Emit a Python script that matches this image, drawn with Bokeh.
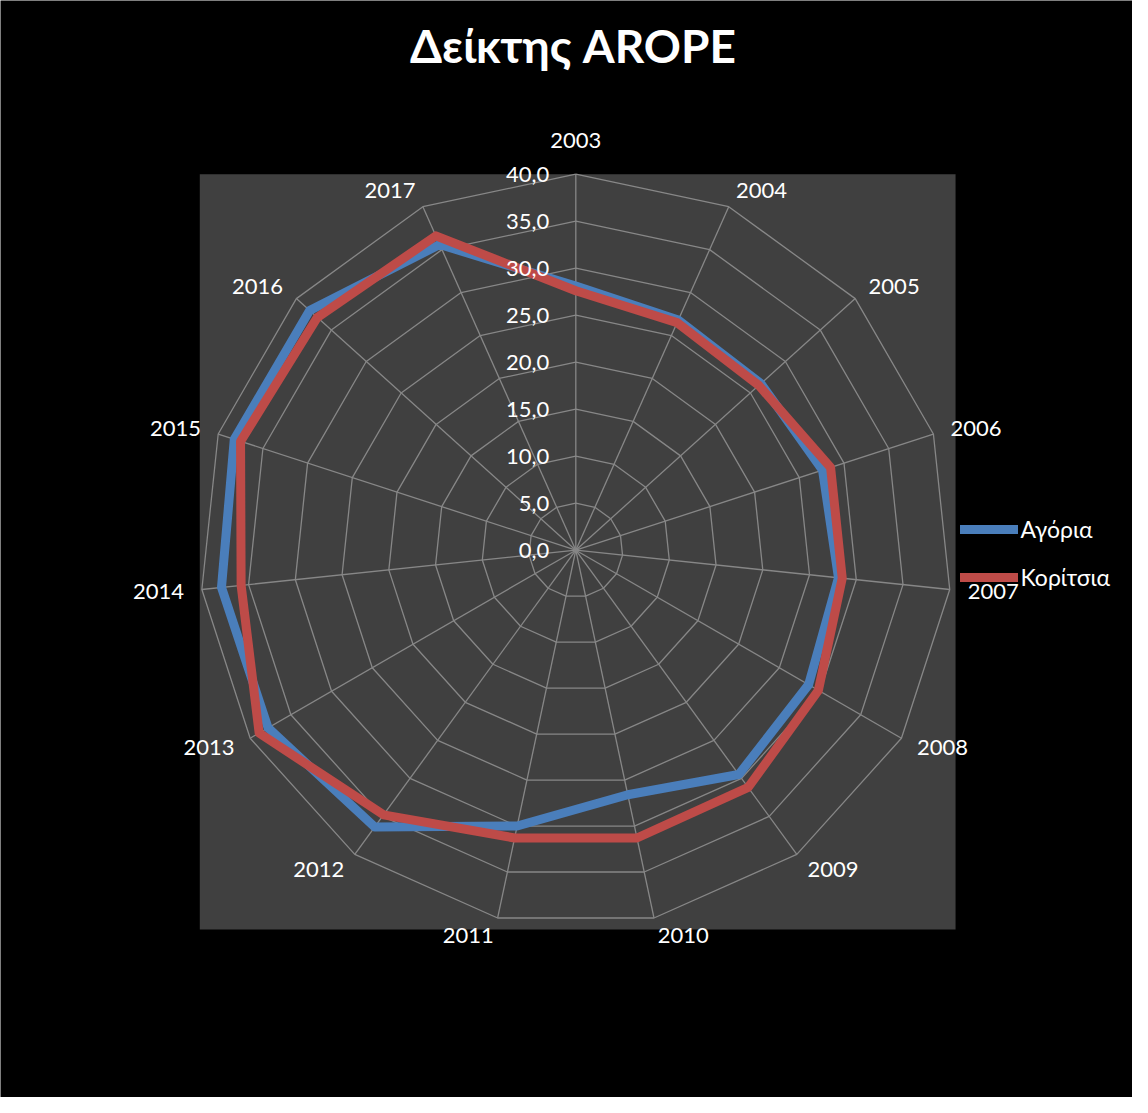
import numpy as np
from bokeh.plotting import figure
from bokeh.models import Range1d, BoxAnnotation, Legend, LegendItem
from bokeh.core.properties import value
from bokeh.embed import file_html
from bokeh.resources import INLINE

# ---------------- data ----------------
title_text = "Δείκτης AROPE"
years = ["2003", "2004", "2005", "2006", "2007", "2008", "2009", "2010",
         "2011", "2012", "2013", "2014", "2015", "2016", "2017"]
boys = [28.1, 26.8, 26.5, 27.6, 28.1, 28.6, 29.5, 26.6,
        30.0, 36.4, 37.8, 37.9, 38.2, 38.1, 35.6]
girls = [27.6, 26.5, 26.2, 28.5, 28.5, 29.8, 31.2, 31.3,
         31.3, 34.8, 38.9, 35.8, 37.5, 37.0, 36.6]
series_names = ["Αγόρια", "Κορίτσια"]
tick_values = [0, 5, 10, 15, 20, 25, 30, 35, 40]
tick_labels = ["0,0", "5,0", "10,0", "15,0", "20,0", "25,0", "30,0", "35,0", "40,0"]

# ---------------- layout ----------------
W, H = 1132, 1097
S = 9.4                 # pixels per value unit
CX, CY = 575.3, 549.7   # radar centre in figure pixels
R = tick_values[-1]
FONT = value("Lato")
LBL_PX = 22
TITLE_PX = 46
GRID = "#878787"
BLUE = "#4A7EBB"
RED = "#BE4B48"


def fix(px):
    # upward correction of the alphabetic baseline, in value units
    return 0.42 * px / S


n = len(years)
ang = np.deg2rad(90 - 360.0 / n * np.arange(n))
ang_c = np.append(ang, ang[0])

p = figure(width=W, height=H,
           x_range=Range1d(-CX / S, (W - CX) / S),
           y_range=Range1d(-(H - CY) / S, CY / S),
           output_backend="svg", toolbar_location=None,
           x_axis_type=None, y_axis_type=None, min_border=0,
           background_fill_color="black", border_fill_color="black",
           outline_line_color=None)

# plot-area box
p.add_layout(BoxAnnotation(left=-R, right=R + 0.4, bottom=-R - 0.35, top=R,
                           fill_color="#404040", fill_alpha=1.0,
                           line_color=None, level="underlay"))

# rings
ring_vals = [v for v in tick_values if v > 0]
p.multi_line(xs=[list(v * np.cos(ang_c)) for v in ring_vals],
             ys=[list(v * np.sin(ang_c)) for v in ring_vals],
             line_color=GRID, line_width=1.3)
# spokes
p.segment(x0=np.zeros(n), y0=np.zeros(n), x1=R * np.cos(ang), y1=R * np.sin(ang),
          line_color=GRID, line_width=1.3)


# series
def closed(vals):
    v = np.append(np.array(vals, dtype=float), vals[0])
    return v * np.cos(ang_c), v * np.sin(ang_c)


bx, by = closed(boys)
gx, gy = closed(girls)
r_boys = p.line(bx, by, line_color=BLUE, line_width=9, line_join="round", line_cap="round")
r_girls = p.line(gx, gy, line_color=RED, line_width=9, line_join="round", line_cap="round")

# value tick labels
p.text(x=[-26.6 / S] * len(tick_values),
       y=[v - 9.8 / S + fix(LBL_PX) for v in tick_values],
       text=tick_labels, text_align="right", text_baseline="alphabetic",
       text_color="white", text_font=FONT, text_font_size=f"{LBL_PX}px")

# category labels
groups = {"left": ([], [], []), "right": ([], [], []), "center": ([], [], [])}
for i, yr in enumerate(years):
    c, s = np.cos(ang[i]), np.sin(ang[i])
    if abs(c) < 0.05:
        key = "center"
        ax = 0.0
        ay = (R * S + 24.0) / S if s > 0 else -(R * S + 24.0) / S
    else:
        key = "left" if c > 0 else "right"
        rr = R * S + 18.0
        ax = c * rr / S
        ay = s * rr / S - 9.5 / S
    groups[key][0].append(ax)
    groups[key][1].append(ay + fix(LBL_PX))
    groups[key][2].append(yr)
for key, (xs, ys, ts) in groups.items():
    if ts:
        p.text(x=xs, y=ys, text=ts, text_align=key, text_baseline="alphabetic",
               text_color="white", text_font=FONT, text_font_size=f"{LBL_PX}px")

# title
p.text(x=[-2.8 / S], y=[(CY - 64.3) / S + fix(TITLE_PX)], text=[title_text],
       text_align="center", text_baseline="alphabetic", text_color="white",
       text_font=FONT, text_font_style="bold", text_font_size=f"{TITLE_PX}px")

# legend
LEG_ROW = 28
LEG_GAP = 20
LEG_TOP = 529.3 - LEG_ROW / 2
LEG_H = 2 * LEG_ROW + LEG_GAP
legend = Legend(items=[LegendItem(label=series_names[0], renderers=[r_boys]),
                       LegendItem(label=series_names[1], renderers=[r_girls])],
                location=(959.5, H - LEG_TOP - LEG_H), padding=0, margin=0,
                spacing=LEG_GAP, glyph_width=58, glyph_height=LEG_ROW,
                label_height=LEG_ROW, label_standoff=3,
                label_text_font="Lato", label_text_font_size="23px",
                label_text_color="white", background_fill_alpha=0,
                border_line_alpha=0)
p.add_layout(legend)

open("out.html", "w").write(file_html(p, INLINE))
